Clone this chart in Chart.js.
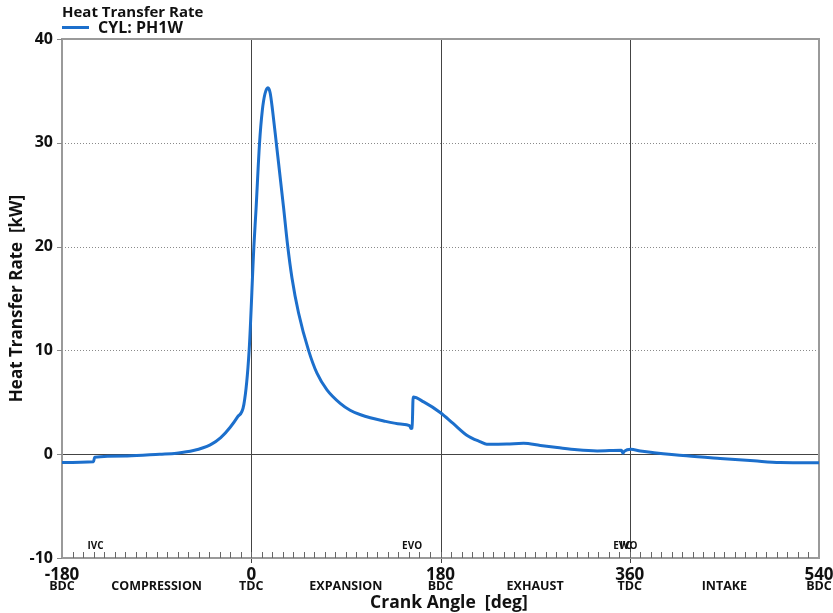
<!DOCTYPE html>
<html>
<head>
<meta charset="utf-8">
<script src="https://cdn.jsdelivr.net/npm/chart.js@4"></script>
<style>
  html, body { margin: 0; padding: 0; background: #fff; }
  #wrap { width: 833px; height: 613px; }
</style>
</head>
<body>
<div id="wrap"><canvas id="myChart" width="833" height="613"></canvas></div>
<script>
// crank angle [deg] and heat transfer rate [kW]
const crankAngle = [-180,-150,-149,-118,-87,-71,-55,-39,-29,-20,-13,-7,-2,2.5,4.5,7.9,10.5,13,15.9,18,20.3,23.8,30.7,34.5,38.7,45,54.5,62.5,72,84.6,94,104,126,142,150.5,152,153,154,164,180,192,205,218,224,243,259,275,291,310,329,352,353.5,355,361,370,383,414,446,478,503,540];
const heatRate   = [-0.8,-0.72,-0.3,-0.17,0,0.1,0.35,0.9,1.6,2.6,3.6,4.8,10,20,23.5,30,33.1,34.7,35.3,34.8,33.1,30,23.8,20.2,17.0,13.6,10,7.8,6.2,4.9,4.24,3.8,3.2,2.9,2.76,2.47,2.5,5.5,5.04,4.0,2.96,1.83,1.19,0.96,0.98,1.06,0.84,0.64,0.42,0.32,0.38,0.1,0.3,0.48,0.3,0.15,-0.16,-0.41,-0.64,-0.8,-0.82];

const xTicks   = [-180, 0, 180, 360, 540];
const xSub     = ['BDC', 'TDC', 'BDC', 'TDC', 'BDC'];
const phaseAt  = [-90, 90, 270, 450];
const phases   = ['COMPRESSION', 'EXPANSION', 'EXHAUST', 'INTAKE'];
const eventAt  = [-148, 153, 353, 359];
const events   = ['IVC', 'EVO', 'EVC', 'IVO'];
const yTicks   = [-10, 0, 10, 20, 30, 40];

const lineColor = '#1c6fcc'
const FONT = '"Open Sans", "Noto Sans", sans-serif'

const decor = {
  id: 'decor',
  beforeDatasetsDraw(chart) {
    const ctx = chart.ctx
    const x = chart.scales.x, y = chart.scales.y
    const a = chart.chartArea
    ctx.save()
    // dotted horizontal grid
    ctx.strokeStyle = '#8a8a8a'
    ctx.lineWidth = 1
    ctx.setLineDash([1, 2])
    yTicks.forEach(v => {
      if (v === 0 || v === 40 || v === -10) return
      const py = Math.round(y.getPixelForValue(v)) + 0.5
      ctx.beginPath(); ctx.moveTo(a.left, py); ctx.lineTo(a.right, py); ctx.stroke()
    })
    ctx.setLineDash([])
    // zero line + TDC/BDC verticals
    ctx.strokeStyle = '#444'
    const p0 = Math.round(y.getPixelForValue(0)) + 0.5
    ctx.beginPath(); ctx.moveTo(a.left - 5, p0); ctx.lineTo(a.right, p0); ctx.stroke()
    xTicks.forEach(v => {
      if (v === -180 || v === 540) return
      const px = Math.round(x.getPixelForValue(v)) + 0.5
      ctx.beginPath(); ctx.moveTo(px, a.top); ctx.lineTo(px, a.bottom + 5); ctx.stroke()
    })
    // box
    ctx.strokeStyle = '#9a9a9a'
    ctx.lineWidth = 2
    ctx.strokeRect(a.left, a.top, a.right - a.left, a.bottom - a.top)
    // y tick stubs
    ctx.lineWidth = 1
    ctx.strokeStyle = '#888'
    yTicks.forEach(v => {
      const py = Math.round(y.getPixelForValue(v)) + 0.5
      ctx.beginPath(); ctx.moveTo(a.left - 5, py); ctx.lineTo(a.left, py); ctx.stroke()
    })
    // minor ticks every 10 deg
    ctx.strokeStyle = '#666'
    for (let v = -170; v < 540; v += 10) {
      const px = Math.round(x.getPixelForValue(v)) + 0.5
      ctx.beginPath(); ctx.moveTo(px, a.bottom); ctx.lineTo(px, a.bottom - 6); ctx.stroke()
    }
    ctx.restore()
  },
  afterDraw(chart) {
    const ctx = chart.ctx
    const x = chart.scales.x
    const a = chart.chartArea
    ctx.save()
    ctx.fillStyle = '#111'
    // title + legend
    ctx.textAlign = 'left'
    ctx.textBaseline = 'alphabetic'
    ctx.font = 'bold 15px ' + FONT
    ctx.fillText('Heat Transfer Rate', 62, 17)
    ctx.font = 'bold 16px ' + FONT
    ctx.fillText('CYL: PH1W', 98, 33)
    ctx.strokeStyle = lineColor
    ctx.lineWidth = 3
    ctx.beginPath(); ctx.moveTo(62, 27.5); ctx.lineTo(89, 27.5); ctx.stroke()
    // event labels
    ctx.textAlign = 'center'
    ctx.font = 'bold 10px ' + FONT
    events.forEach((t, i) => ctx.fillText(t, x.getPixelForValue(eventAt[i]), a.bottom - 9))
    // x tick labels
    ctx.font = 'bold 17px ' + FONT
    xTicks.forEach(v => {
      let px = x.getPixelForValue(v)
      if (v === 540) px = Math.min(px, 833 - 14)
      ctx.fillText(String(v), px, a.bottom + 22)
    })
    ctx.font = 'bold 12.5px ' + FONT
    xSub.forEach((t, i) => {
      let px = x.getPixelForValue(xTicks[i])
      if (i === xTicks.length - 1) px = Math.min(px, 833 - 14)
      ctx.fillText(t, px, a.bottom + 32)
    })
    phases.forEach((t, i) => ctx.fillText(t, x.getPixelForValue(phaseAt[i]), a.bottom + 32))
    // x axis title
    ctx.font = 'bold 17.5px ' + FONT
    ctx.fillText('Crank Angle  [deg]', x.getPixelForValue(188), 608)
    ctx.restore()
  }
}

const points = crankAngle.map((c, i) => ({ x: c, y: heatRate[i] }))

const config = {
  type: 'scatter',
  data: {
    datasets: [{
      label: 'CYL: PH1W',
      data: points,
      showLine: true,
      borderColor: lineColor,
      borderWidth: 3,
      pointRadius: 0,
      cubicInterpolationMode: 'monotone'
    }]
  },
  options: {
    animation: false,
    responsive: false,
    layout: { padding: { top: 39, right: 14, bottom: 0, left: 0 } },
    plugins: { legend: { display: false }, tooltip: { enabled: false } },
    scales: {
      x: {
        type: 'linear', min: -180, max: 540,
        grid: { display: false }, border: { display: false },
        ticks: { display: false },
        afterFit: s => { s.height = 55 }
      },
      y: {
        min: -10, max: 40,
        grid: { display: false }, border: { display: false },
        ticks: { stepSize: 10, color: '#111', padding: 1, font: { family: FONT, size: 16, weight: 'bold' } },
        title: { display: true, text: 'Heat Transfer Rate  [kW]', color: '#111', padding: { top: 7, bottom: 0 }, font: { family: FONT, size: 17, weight: 'bold' } },
        afterFit: s => { s.width = 62 }
      }
    }
  },
  plugins: [decor]
}

new Chart(document.getElementById('myChart'), config)
</script>
</body>
</html>
